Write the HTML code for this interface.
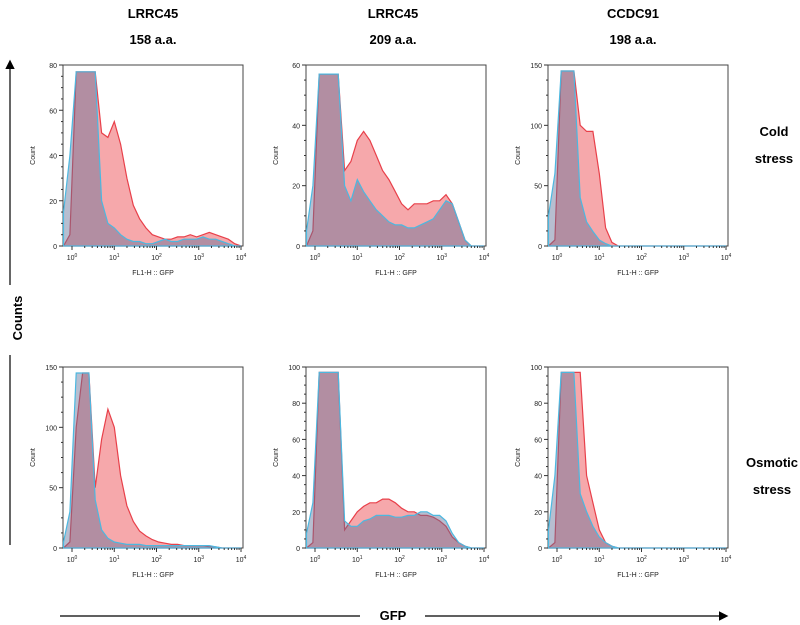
<!DOCTYPE html>
<html><head><meta charset="utf-8"><style>
body{margin:0;background:#fff;font-family:"Liberation Sans",sans-serif;}
svg{display:block}
</style></head><body>
<svg id="fig" width="800" height="625" viewBox="0 0 800 625">
<defs><marker id="ah" markerWidth="8" markerHeight="8" refX="6" refY="4" orient="auto"><path d="M0,0 L8,4 L0,8 z" fill="#000"/></marker></defs>
<g font-weight="bold" font-size="13" text-anchor="middle">
<text x="153" y="18">LRRC45</text>
<text x="153" y="44">158 a.a.</text>
<text x="393" y="18">LRRC45</text>
<text x="393" y="44">209 a.a.</text>
<text x="633" y="18">CCDC91</text>
<text x="633" y="44">198 a.a.</text>
<text x="774" y="136">Cold</text>
<text x="774" y="163">stress</text>
<text x="772" y="467">Osmotic</text>
<text x="772" y="494">stress</text>
<text x="22" y="318" transform="rotate(-90 22 318)">Counts</text>
<text x="393" y="620">GFP</text>
</g>
<line x1="10" y1="285" x2="10" y2="62" stroke="#000" stroke-width="1.2" marker-end="url(#ah)"/>
<line x1="10" y1="355" x2="10" y2="545" stroke="#000" stroke-width="1.2"/>
<line x1="60" y1="616" x2="360" y2="616" stroke="#000" stroke-width="1.2"/>
<line x1="425" y1="616" x2="726" y2="616" stroke="#000" stroke-width="1.2" marker-end="url(#ah)"/>
<g id="panels"></g>
</svg>
<script>
const binsLog = [-0.2,-0.05,0.1,0.25,0.4,0.55,0.7,0.85,1.0,1.15,1.3,1.45,1.6,1.75,1.9,2.05,2.2,2.35,2.5,2.65,2.8,2.95,3.1,3.25,3.4,3.55,3.7,3.85,4.0];
const yMaxes = [80,60,150,150,100,100];
const yTickSteps = [20,20,50,50,20,20];
const blue1 = [15,40,77,77,77,77,20,10,8,5,3,2,2,1,1,2,3,2,2,3,3,3,4,3,3,2,1,0,0];
const red1  = [0,5,77,77,77,77,50,48,55,45,30,18,12,8,5,4,3,3,4,4,5,4,5,6,5,4,3,1,0];
const blue2 = [5,20,57,57,57,57,20,15,22,18,15,12,10,8,7,7,6,6,7,8,9,12,15,14,8,2,0,0,0];
const red2  = [0,5,57,57,57,57,25,28,35,38,35,30,25,22,18,14,12,14,14,14,15,15,17,14,8,2,0,0,0];
const blue3 = [25,60,145,145,145,40,20,12,5,2,0,0,0,0,0,0,0,0,0,0,0,0,0,0,0,0,0,0,0];
const red3  = [0,5,145,145,145,100,95,95,60,15,3,0,0,0,0,0,0,0,0,0,0,0,0,0,0,0,0,0,0];
const blue4 = [5,30,145,145,145,40,15,8,5,4,3,3,3,2,2,2,2,2,2,2,2,2,2,2,1,0,0,0,0];
const red4  = [0,5,100,145,145,50,90,115,100,60,35,22,14,10,7,5,4,3,3,2,2,2,2,1,1,0,0,0,0];
const blue5 = [8,25,97,97,97,97,15,12,12,15,16,18,18,18,17,17,18,18,20,20,18,18,15,8,3,1,0,0,0];
const red5  = [0,3,97,97,97,97,10,15,20,23,25,25,27,27,25,22,20,20,18,18,17,15,12,6,3,1,0,0,0];
const blue6 = [10,40,97,97,97,30,20,12,6,3,1,0,0,0,0,0,0,0,0,0,0,0,0,0,0,0,0,0,0];
const red6  = [0,3,97,97,97,97,40,25,10,3,1,0,0,0,0,0,0,0,0,0,0,0,0,0,0,0,0,0,0];
const blues=[blue1,blue2,blue3,blue4,blue5,blue6], reds=[red1,red2,red3,red4,red5,red6];
const decades=[0,1,2,3,4];
const NS='http://www.w3.org/2000/svg';
const colX=[63,306,548], rowY=[65,367], W=180, H=181;
const xmin=-0.213, xmax=4.047;
function mk(tag,attrs,parent){const e=document.createElementNS(NS,tag);for(const k in attrs)e.setAttribute(k,attrs[k]);parent.appendChild(e);return e;}
const root=document.getElementById('panels');
for(let p=0;p<6;p++){
  const ox=colX[p%3], oy=rowY[Math.floor(p/3)], ym=yMaxes[p];
  const g=mk('g',{},root);
  
  
  const sx=v=>ox+(v-xmin)/(xmax-xmin)*W;
  const sy=v=>oy+H-v/ym*H;
  mk('rect',{x:ox,y:oy,width:W,height:H,fill:'#fff',stroke:'#444','stroke-width':1},g);
  function path(arr){let d='M'+sx(binsLog[0]).toFixed(1)+','+sy(0).toFixed(1);
    arr.forEach((v,i)=>{d+=' L'+sx(binsLog[i]).toFixed(1)+','+sy(v).toFixed(1);});
    d+=' L'+sx(binsLog[binsLog.length-1]).toFixed(1)+','+sy(0).toFixed(1)+' Z';return d;}
  const r=mk('path',{d:path(reds[p]),fill:'rgba(240,110,115,0.6)',stroke:'#e8404a','stroke-width':1.2},g);
  
  
  const b=mk('path',{d:path(blues[p]),fill:'rgba(95,110,150,0.45)',stroke:'#4cb8e0','stroke-width':1.2},g);
  
  
  for(let v=0;v<=ym;v+=yTickSteps[p]/4){
    const major=(v%yTickSteps[p]===0);
    mk('line',{x1:ox,x2:ox-(major?4:2),y1:sy(v),y2:sy(v),stroke:'#333','stroke-width':1},g);
    if(major){const t=mk('text',{x:ox-6,y:sy(v)+3,'font-size':7,'text-anchor':'end',fill:'#222'},g);t.textContent=v;
      
      }
  }
  decades.forEach(d=>{
    mk('line',{x1:sx(d),x2:sx(d),y1:oy+H,y2:oy+H+4,stroke:'#333'},g);
    for(let m=2;m<10&&d<4;m++){const lx=sx(d+Math.log10(m));mk('line',{x1:lx,x2:lx,y1:oy+H,y2:oy+H+2,stroke:'#333'},g);}
    const t=mk('text',{x:sx(d),y:oy+H+14,'font-size':7,'text-anchor':'middle',fill:'#222'},g);
    t.innerHTML='10<tspan dy="-3" font-size="5">'+d+'</tspan>';
    
    
  });
  const xl=mk('text',{x:ox+W/2,y:oy+H+29,'font-size':7,'text-anchor':'middle',fill:'#222'},g);xl.textContent='FL1-H :: GFP';
  
  
  const yl=mk('text',{x:ox-28,y:oy+H/2,'font-size':7,'text-anchor':'middle',fill:'#222',transform:'rotate(-90 '+(ox-28)+' '+(oy+H/2)+')'},g);yl.textContent='Count';
  
  
}
</script>
</body></html>
